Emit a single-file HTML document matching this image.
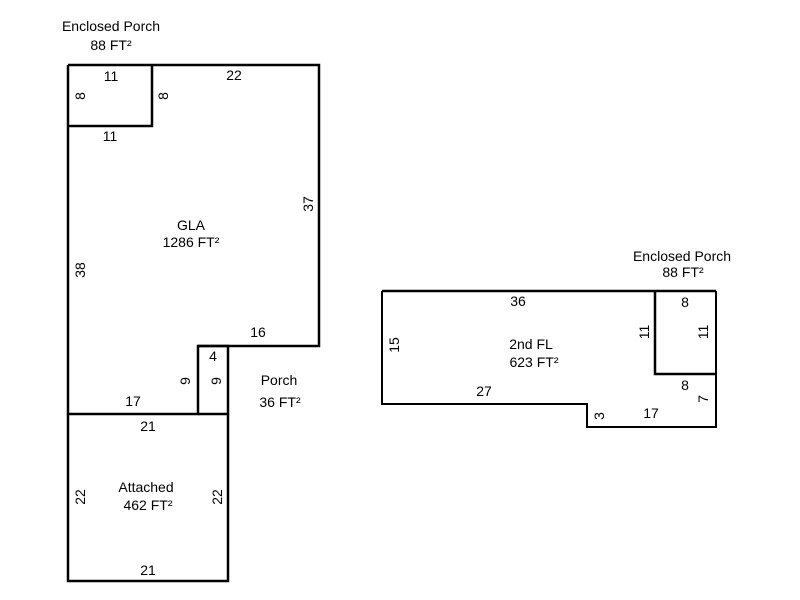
<!DOCTYPE html>
<html><head><style>body{margin:0;background:#fff}svg{display:block}</style></head><body>
<svg width="800" height="600" xmlns="http://www.w3.org/2000/svg" font-family="Liberation Sans, Arial, sans-serif" font-size="14" fill="#000">
<g stroke="#000" stroke-width="2.5" fill="none">
<polyline points="68,65 319,65 319,346 198,346 198,414 68,414 68,65"/>
<polyline points="68,126 152,126 152,65"/>
<polyline points="198,346 228,346 228,414 198,414"/>
<polyline points="68,414 68,581 228,581 228,414"/>
<polyline points="382,291 716,291"/>
<polyline points="382,291 382,404 587,404 587,427 716,427 716,291" stroke-width="2"/>
<polyline points="655,291 655,374 716,374"/>
</g>
<g text-anchor="middle">
<text x="111" y="31">Enclosed Porch</text>
<text x="111" y="50">88 FT²</text>
<text x="111" y="81">11</text>
<text x="234" y="80">22</text>
<text x="110" y="141">11</text>
<text x="191" y="230">GLA</text>
<text x="191" y="247">1286 FT²</text>
<text x="258" y="337">16</text>
<text x="213" y="361">4</text>
<text x="279" y="385">Porch</text>
<text x="280" y="407">36 FT²</text>
<text x="133" y="406">17</text>
<text x="148" y="431">21</text>
<text x="146" y="492">Attached</text>
<text x="148" y="510">462 FT²</text>
<text x="148" y="575">21</text>
<text x="682" y="261">Enclosed Porch</text>
<text x="683" y="277">88 FT²</text>
<text x="518" y="306">36</text>
<text x="685" y="307">8</text>
<text x="531" y="349">2nd FL</text>
<text x="534" y="367">623 FT²</text>
<text x="685" y="390">8</text>
<text x="484" y="396">27</text>
<text x="651" y="418">17</text>
<g>
<text transform="translate(85,96) rotate(-90)">8</text>
<text transform="translate(168,96) rotate(-90)">8</text>
<text transform="translate(313,204) rotate(-90)">37</text>
<text transform="translate(85,270) rotate(-90)">38</text>
<text transform="translate(190,381) rotate(-90)">9</text>
<text transform="translate(221,381) rotate(-90)">9</text>
<text transform="translate(85,497) rotate(-90)">22</text>
<text transform="translate(222,497) rotate(-90)">22</text>
<text transform="translate(399,345) rotate(-90)">15</text>
<text transform="translate(649,332) rotate(-90)">11</text>
<text transform="translate(708,332) rotate(-90)">11</text>
<text transform="translate(708,399) rotate(-90)">7</text>
<text transform="translate(604,416) rotate(-90)">3</text>
</g>
</g>
</svg>
</body></html>
